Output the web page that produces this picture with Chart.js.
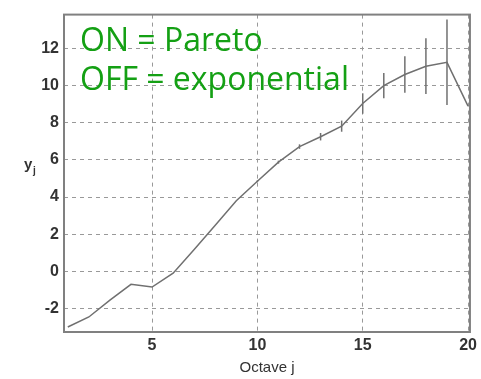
<!DOCTYPE html>
<html>
<head>
<meta charset="utf-8">
<script src="https://cdn.jsdelivr.net/npm/chart.js@4.4.1/dist/chart.umd.min.js"></script>
<style>
  body { margin: 0; background: #fff; }
  #wrap { width: 481px; height: 379px; }
</style>
</head>
<body>
<div id="wrap"><canvas id="grafico" width="481" height="379"></canvas></div>
<script>
// -------------------------------------
// Datos: y_j por octava y su intervalo
// -------------------------------------
const octavas = [1, 2, 3, 4, 5, 6, 7, 8, 9, 10, 11, 12, 13, 14, 15, 16, 17, 18, 19, 20];
const yj = [-3.0, -2.46, -1.55, -0.7, -0.85, -0.1, 1.17, 2.48, 3.8, 4.85,
            5.88, 6.72, 7.25, 7.82, 9.04, 10.0, 10.6, 11.05, 11.26, 8.9];
const errorYj = [0, 0, 0, 0, 0, 0, 0, 0, 0, 0.05,
                 0.08, 0.12, 0.2, 0.3, 0.55, 0.68, 0.98, 1.5, 2.3, 0];

const ticksX = [5, 10, 15, 20];
const ticksY = [-2, 0, 2, 4, 6, 8, 10, 12];
const leyenda = ["ON = Pareto", "OFF = exponential"];

const GRIS = "#707070";
const fuenteEjes = { family: "'Liberation Sans', Arial, sans-serif", size: 16, weight: "bold" };

// barras verticales de error, sin tapas
const barrasError = {
  id: "barrasError",
  afterDatasetsDraw(chart) {
    const { ctx, scales: { x, y } } = chart;
    ctx.save();
    ctx.strokeStyle = GRIS;
    ctx.lineWidth = 1.5;
    octavas.forEach((j, i) => {
      if (!errorYj[i]) return;
      const px = x.getPixelForValue(j);
      ctx.beginPath();
      ctx.moveTo(px, y.getPixelForValue(yj[i] - errorYj[i]));
      ctx.lineTo(px, y.getPixelForValue(yj[i] + errorYj[i]));
      ctx.stroke();
    });
    ctx.restore();
  }
};

// marco, etiqueta y_j y texto verde
const marcoYTexto = {
  id: "marcoYTexto",
  afterDraw(chart) {
    const { ctx, chartArea: a } = chart;
    ctx.save();
    ctx.strokeStyle = "#808080";
    ctx.lineWidth = 2;
    ctx.strokeRect(a.left, a.top, a.right - a.left, a.bottom - a.top);

    ctx.fillStyle = "#333";
    ctx.textBaseline = "alphabetic";
    ctx.font = "bold 15px 'Liberation Sans', Arial, sans-serif";
    ctx.fillText("y", 24, 169);
    ctx.font = "bold 10px 'Liberation Sans', Arial, sans-serif";
    ctx.fillText("j", 33, 174);

    ctx.fillStyle = "#14a014";
    ctx.font = "32px 'Open Sans', sans-serif";
    ctx.fillText(leyenda[0], 80, 51);
    ctx.fillText(leyenda[1], 80, 90);
    ctx.restore();
  }
};

new Chart(document.getElementById("grafico"), {
  type: "line",
  data: {
    datasets: [{
      data: octavas.map((j, i) => ({ x: j, y: yj[i] })),
      borderColor: GRIS,
      borderWidth: 1.5,
      pointRadius: 0,
      tension: 0
    }]
  },
  options: {
    responsive: false,
    animation: false,
    layout: { padding: { top: 8, right: 11, left: 0, bottom: 0 } },
    plugins: { legend: { display: false }, tooltip: { enabled: false } },
    scales: {
      x: {
        type: "linear",
        min: 0.82,
        max: 20.09,
        afterBuildTicks: s => { s.ticks = ticksX.map(v => ({ value: v })); },
        afterFit: s => { s.height = 47; },
        grid: { color: "#999", drawTicks: false },
        border: { display: false, dash: [4, 4] },
        ticks: { font: fuenteEjes, color: "#333", padding: 4, maxRotation: 0, autoSkip: false },
        title: {
          display: true,
          text: "Octave j",
          font: { family: fuenteEjes.family, size: 15 },
          color: "#333",
          padding: { top: 0, bottom: 2 }
        }
      },
      y: {
        min: -3.27,
        max: 13.83,
        afterBuildTicks: s => { s.ticks = ticksY.map(v => ({ value: v })); },
        afterFit: s => { s.width = 64; },
        grid: { color: "#999", drawTicks: false },
        border: { display: false, dash: [4, 4] },
        ticks: { font: fuenteEjes, color: "#333", padding: 5, autoSkip: false }
      }
    }
  },
  plugins: [barrasError, marcoYTexto]
});
</script>
</body>
</html>
